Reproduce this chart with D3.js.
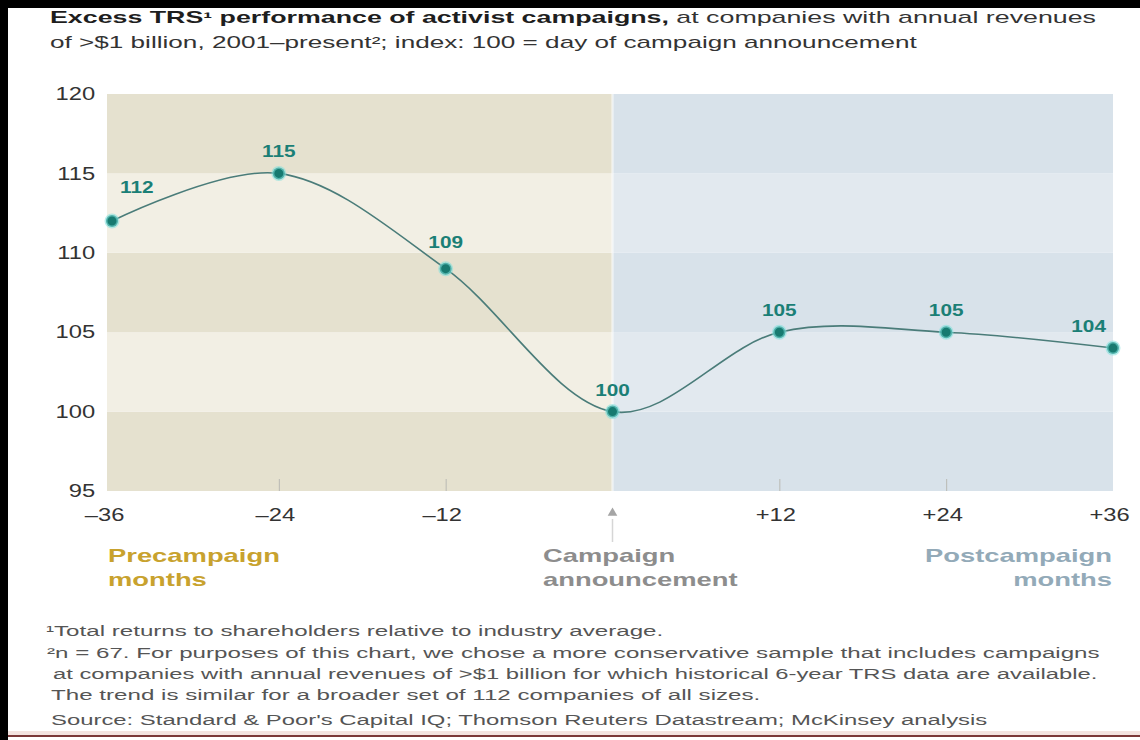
<!DOCTYPE html>
<html>
<head>
<meta charset="utf-8">
<script src="https://cdn.jsdelivr.net/npm/d3@7"></script>
<style>
  body { margin: 0; background: #fff; }
  svg { display: block; font-family: "Liberation Sans", Arial, Helvetica, sans-serif; }
</style>
</head>
<body>
<svg id="grafico"></svg>
<script>
// dados do grafico
const meses = [-36, -24, -12, 0, 12, 24, 36]
const rotulosX = ['–36', '–24', '–12', '', '+12', '+24', '+36']
const indice = [112, 115, 109, 100, 105, 105, 104]
const ticksY = [95, 100, 105, 110, 115, 120]
const marcasInternas = [-24, -12, 12, 24]
const fases = [
  {nome: 'pre', de: -36, ate: 0},
  {nome: 'pos', de: 0, ate: 36}
]
const titulo1Negrito = 'Excess TRS¹ performance of activist campaigns,'
const titulo1Resto = ' at companies with annual revenues'
const titulo2 = 'of >$1 billion, 2001–present²; index: 100 = day of campaign announcement'
const legendaPre = ['Precampaign', 'months']
const legendaAnuncio = ['Campaign', 'announcement']
const legendaPos = ['Postcampaign', 'months']
const notas = [
  '¹Total returns to shareholders relative to industry average.',
  '²n = 67.  For purposes of this chart, we chose a more conservative sample that includes campaigns',
  'at companies with annual revenues of >$1 billion for which historical 6-year TRS data are available.',
  'The trend is similar for a broader set of 112 companies of all sizes.'
]
const fonte = 'Source: Standard & Poor\'s Capital IQ; Thomson Reuters Datastream; McKinsey analysis'

const largura = 1140, altura = 740
const svg = d3.select('#grafico').attr('width', largura).attr('height', altura)

// a imagem original e esticada na horizontal, entao o texto tambem
const SX = 1.38

const fnX = d3.scaleLinear().domain([-36, 36]).range([112, 1113])
const fnY = d3.scaleLinear().domain([95, 120]).range([491, 94])
const esquerda = fnX(-36) - 5

const cores = {
  pre: ['#e5e1cf', '#f2efe4'],
  pos: ['#d8e2ea', '#e2e9ef']
}

// escreve um texto esticado
function texto(g, x, y, str, o) {
  o = o || {}
  let t = g.append('text')
    .attr('text-anchor', o.anchor || 'start')
    .style('font-size', (o.size || 16) + 'px')
    .style('font-weight', o.bold ? 'bold' : 'normal')
    .attr('fill', o.cor || '#333')
    .text(str)
  let sx = o.sx || SX
  if (o.largura) sx = o.largura / t.node().getComputedTextLength()
  t.attr('transform', 'translate(' + x + ',' + y + ') scale(' + sx + ',1)')
  t.sx = sx
  return t
}

// faixas de fundo
let fundo = svg.append('g')
fases.forEach(f => {
  for (let i = 0; i < ticksY.length - 1; i++) {
    let x0 = f.de === -36 ? esquerda : fnX(f.de)
    fundo.append('rect')
      .attr('x', x0)
      .attr('y', fnY(ticksY[i + 1]))
      .attr('width', fnX(f.ate) - x0)
      .attr('height', fnY(ticksY[i]) - fnY(ticksY[i + 1]))
      .attr('fill', cores[f.nome][i % 2])
  }
})
fundo.append('line')
  .attr('x1', fnX(0)).attr('x2', fnX(0))
  .attr('y1', fnY(120)).attr('y2', fnY(95))
  .attr('stroke', '#fff').attr('stroke-opacity', 0.4).attr('stroke-width', 3)

// marcas pequenas no fundo
let marcas = svg.append('g')
  .attr('transform', 'translate(0,' + fnY(95) + ')')
  .call(d3.axisBottom(fnX).tickValues(marcasInternas).tickSize(-12).tickFormat(''))
marcas.select('.domain').remove()
marcas.selectAll('line').attr('stroke', '#b9b9b4')

// eixo Y
let eixoY = svg.append('g')
  .attr('transform', 'translate(' + esquerda + ',0)')
  .call(d3.axisLeft(fnY).tickValues(ticksY).tickSize(0).tickPadding(9))
eixoY.select('.domain').remove()
eixoY.selectAll('text')
  .style('font-size', '18px')
  .attr('fill', '#333')
  .attr('transform', 'scale(1.32,1)')

// eixo X
let eixoX = svg.append('g')
  .attr('transform', 'translate(0,' + fnY(95) + ')')
  .call(d3.axisBottom(fnX).tickValues(meses).tickSize(0).tickPadding(17)
    .tickFormat((d, i) => rotulosX[i]))
eixoX.select('.domain').remove()
eixoX.selectAll('text')
  .style('font-size', '18px')
  .attr('fill', '#333')
  .attr('dx', (d, i) => i === 0 ? -6 : -3)
  .attr('transform', 'scale(1.32,1)')

// seta do anuncio
svg.append('path')
  .attr('d', d3.symbol(d3.symbolTriangle, 40)())
  .attr('transform', 'translate(' + fnX(0) + ',513)')
  .attr('fill', '#a5a5a5')
svg.append('line')
  .attr('x1', fnX(0)).attr('x2', fnX(0))
  .attr('y1', 519).attr('y2', 542)
  .attr('stroke', '#d6d6d6').attr('stroke-width', 1.5)

// linha
let pontos = meses.map((m, i) => ({mes: m, valor: indice[i]}))
svg.append('path')
  .datum(pontos)
  .attr('fill', 'none')
  .attr('stroke', '#4a7c79')
  .attr('stroke-width', 1.6)
  .attr('d', d3.line().x(d => fnX(d.mes)).y(d => fnY(d.valor)).curve(d3.curveCatmullRom.alpha(0.2)))

svg.selectAll('.ponto').data(pontos).enter().append('circle')
  .classed('ponto', true)
  .attr('cx', d => fnX(d.mes))
  .attr('cy', d => fnY(d.valor))
  .attr('r', 6)
  .attr('fill', '#177a70')
  .attr('stroke', '#7fe0dc')
  .attr('stroke-opacity', 0.55)
  .attr('stroke-width', 3)

// rotulos dos pontos
let gRot = svg.append('g')
pontos.forEach((d, i) => {
  let ultimo = i === pontos.length - 1
  let x = fnX(d.mes) + (i === 0 ? 8 : ultimo ? -7 : 0)
  let y = fnY(d.valor) + (i === 0 ? -28 : i === 2 ? -21 : -16)
  texto(gRot, x, y, d.valor, {
    anchor: i === 0 ? 'start' : ultimo ? 'end' : 'middle',
    size: 16, bold: true, cor: '#1b7f76', sx: 1.3
  })
})

// titulo
let t1 = svg.append('text')
  .style('font-size', '16px')
  .attr('fill', '#333')
t1.append('tspan').style('font-weight', 'bold').attr('fill', '#1e1e1e').text(titulo1Negrito)
t1.append('tspan').text(titulo1Resto)
let sxTitulo = 1047 / t1.node().getComputedTextLength()
t1.attr('transform', 'translate(50,23) scale(' + sxTitulo + ',1)')
texto(svg, 50, 48, titulo2, {size: 16, cor: '#333', largura: 867})

// legendas das fases
let lp = texto(svg, 108, 562, legendaPre[0], {size: 18, bold: true, cor: '#c8a22e', largura: 172})
texto(svg, 108, 586, legendaPre[1], {size: 18, bold: true, cor: '#c8a22e', sx: lp.sx})
texto(svg, 543, 562, legendaAnuncio[0], {size: 18, bold: true, cor: '#8d8d8d', sx: lp.sx})
texto(svg, 543, 586, legendaAnuncio[1], {size: 18, bold: true, cor: '#8d8d8d', sx: lp.sx})
texto(svg, 1112, 562, legendaPos[0], {size: 18, bold: true, cor: '#93aab8', anchor: 'end', sx: lp.sx})
texto(svg, 1112, 586, legendaPos[1], {size: 18, bold: true, cor: '#93aab8', anchor: 'end', sx: lp.sx})

// notas de rodape
let n2 = texto(svg, 47, 658, notas[1], {size: 15, cor: '#555', largura: 1053})
texto(svg, 46, 636, notas[0], {size: 15, cor: '#555', sx: n2.sx})
texto(svg, 53, 679, notas[2], {size: 15, cor: '#555', largura: 1045})
texto(svg, 51, 700, notas[3], {size: 15, cor: '#555', sx: n2.sx})
texto(svg, 51, 725, fonte, {size: 15, cor: '#555', largura: 937})

// bordas da imagem
svg.append('rect').attr('x', 0).attr('y', 0).attr('width', largura).attr('height', 8).attr('fill', '#000')
svg.append('rect').attr('x', 0).attr('y', 0).attr('width', 8).attr('height', altura).attr('fill', '#000')
svg.append('rect').attr('x', 8).attr('y', 731).attr('width', largura - 8).attr('height', 4).attr('fill', '#f3e3e0')
svg.append('line').attr('x1', 8).attr('x2', largura).attr('y1', 736).attr('y2', 736)
  .attr('stroke', '#7a3838').attr('stroke-width', 2)
</script>
</body>
</html>
